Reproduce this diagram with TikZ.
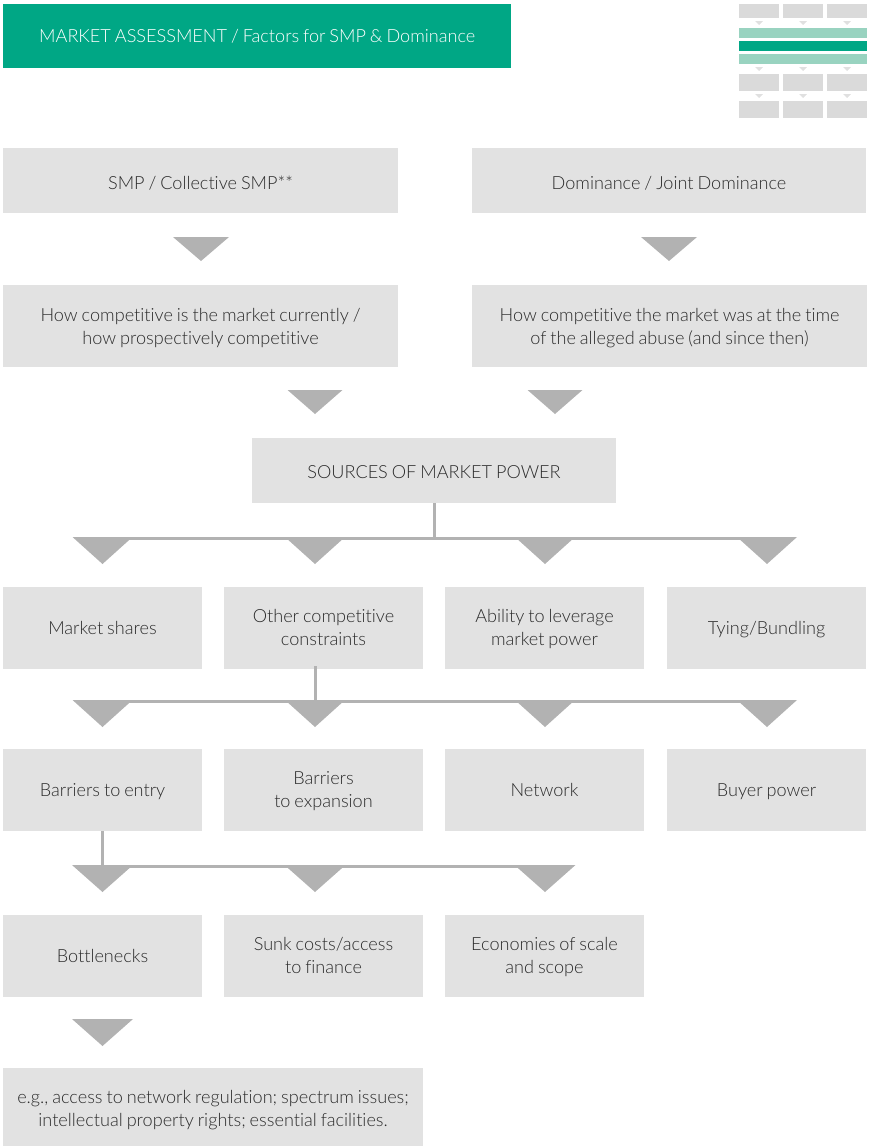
\documentclass[tikz,border=0pt]{standalone}
\usepackage{fontspec}
\setmainfont{Lato}[UprightFont=* Light, WordSpace=0.8, Ligatures=NoCommon]
\definecolor{boxgrey}{HTML}{E2E2E2}
\definecolor{trigrey}{HTML}{B2B2B2}
\definecolor{inktext}{HTML}{2B2B2B}
\definecolor{headgreen}{HTML}{00A785}
\definecolor{palegreen}{HTML}{99D3C0}
\definecolor{thumbgrey}{HTML}{DADADA}
\newcommand{\pbox}[7][0]{% text drop, name, x0, y0, x1, y1, text
  \node[boxstyle, minimum width=#5-#3, minimum height=#6-#4, text width=#5-#3-8] (#2) at ({(#3+#5)/2},{(#4+#6)/2}) {\rule{0pt}{\dimexpr15pt+#1pt+#1pt\relax}#7\rule[-4pt]{0pt}{4pt}};}
\newcommand{\ptri}[4]{% cx, ytop, half, height
  \fill[trigrey] (#1-#3,#2) -- (#1+#3,#2) -- (#1,#2+#4) -- cycle;}
\newcommand{\tbox}[4]{\fill[thumbgrey] (#1,#2) rectangle (#3,#4);}
\newcommand{\ttri}[2]{\fill[thumbgrey!85] (#1-4,#2) -- (#1+4,#2) -- (#1,#2+4) -- cycle;}
\tikzset{
  boxstyle/.style={fill=boxgrey, inner sep=0pt, align=flush center, text=inktext, font=\fontsize{18.1}{23}\selectfont},
  busline/.style={draw=trigrey, line width=3pt},
}
\begin{document}
\begin{tikzpicture}[x=1pt,y=-1pt]
\useasboundingbox (0,0) rectangle (871,1146);
% header
\node[fill=headgreen, minimum width=508, minimum height=64, inner sep=0pt] (head) at (257,36) {};
\node[anchor=west, inner sep=0pt, text=white, font=\fontsize{18.1}{23}\selectfont] (headtext) at (39,36) {MARKET ASSESSMENT / Factors for SMP \& Dominance};
% thumbnail
\foreach \yy/\yb in {4/18,74/91,101/118}{
  \tbox{739}{\yy}{779}{\yb}\tbox{783}{\yy}{823}{\yb}\tbox{827}{\yy}{867}{\yb}}
\foreach \xx in {759,803,847}{\ttri{\xx}{21}\ttri{\xx}{67}\ttri{\xx}{94}}
\fill[palegreen] (739,28) rectangle (867,38);
\fill[headgreen] (739,41) rectangle (867,51);
\fill[palegreen] (739,54) rectangle (867,64);
% boxes
\pbox[3]{smp}{3}{148}{398}{213}{SMP / Collective SMP**}
\pbox[3]{dom}{472}{148}{866}{213}{Dominance / Joint Dominance}
\pbox[1]{cur}{3}{285}{398}{367}{How competitive is the market currently /\\how prospectively competitive}
\pbox[1]{was}{472}{285}{867}{367}{How competitive the market was at the time\\of the alleged abuse (and since then)}
\pbox[2]{src}{252}{438}{616}{503}{SOURCES OF MARKET POWER}
\pbox[1]{shares}{3}{587}{202}{669}{Market shares}
\pbox{other}{224}{587}{423}{669}{Other competitive\\constraints}
\pbox{lever}{445}{587}{644}{669}{Ability to leverage\\market power}
\pbox[1]{tying}{667}{587}{866}{669}{Tying/Bundling}
\pbox[1]{entry}{3}{749}{202}{831}{Barriers to entry}
\pbox{expan}{224}{749}{423}{831}{Barriers\\to expansion}
\pbox[1]{netw}{445}{749}{644}{831}{Network}
\pbox[1]{buyer}{667}{749}{866}{831}{Buyer power}
\pbox[1]{bott}{3}{915}{202}{997}{Bottlenecks}
\pbox{sunk}{224}{915}{423}{997}{Sunk costs/access\\to finance}
\pbox{econ}{445}{915}{644}{997}{Economies of scale\\and scope}
\pbox[2]{eg}{3}{1068}{423}{1146}{e.g., access to network regulation; spectrum issues;\\intellectual property rights; essential facilities.}
% simple arrows
\ptri{201}{237}{28}{24}
\ptri{669}{237}{28}{24}
\ptri{315}{390}{27.5}{24}
\ptri{555}{390}{27.5}{24}
\ptri{102.5}{1019}{30.5}{27}
% bus 1
\coordinate (b1l) at (102,538.5);
\coordinate (b1r) at (767,538.5);
\draw[busline] (b1l) -- (b1r);
\draw[busline] (src.south) -- (src.south |- b1l);
\foreach \xx in {102.5,315,545,767}{\ptri{\xx}{537}{30}{27}}
% bus 2
\coordinate (b2l) at (102,701.5);
\coordinate (b2r) at (767,701.5);
\coordinate (b2s) at (315,666);
\draw[busline] (b2l) -- (b2r);
\draw[busline] (b2s) -- (b2s |- b2l);
\foreach \xx in {102.5,315,545,767}{\ptri{\xx}{700}{30}{27}}
% bus 3
\coordinate (b3l) at (102,866.5);
\coordinate (b3r) at (545,866.5);
\coordinate (b3s) at (102,831);
\draw[busline] (b3l) -- (b3r);
\draw[busline] (b3s) -- (b3s |- b3l);
\foreach \xx in {102.5,315,545}{\ptri{\xx}{865}{30.5}{27}}
\end{tikzpicture}
\end{document}
